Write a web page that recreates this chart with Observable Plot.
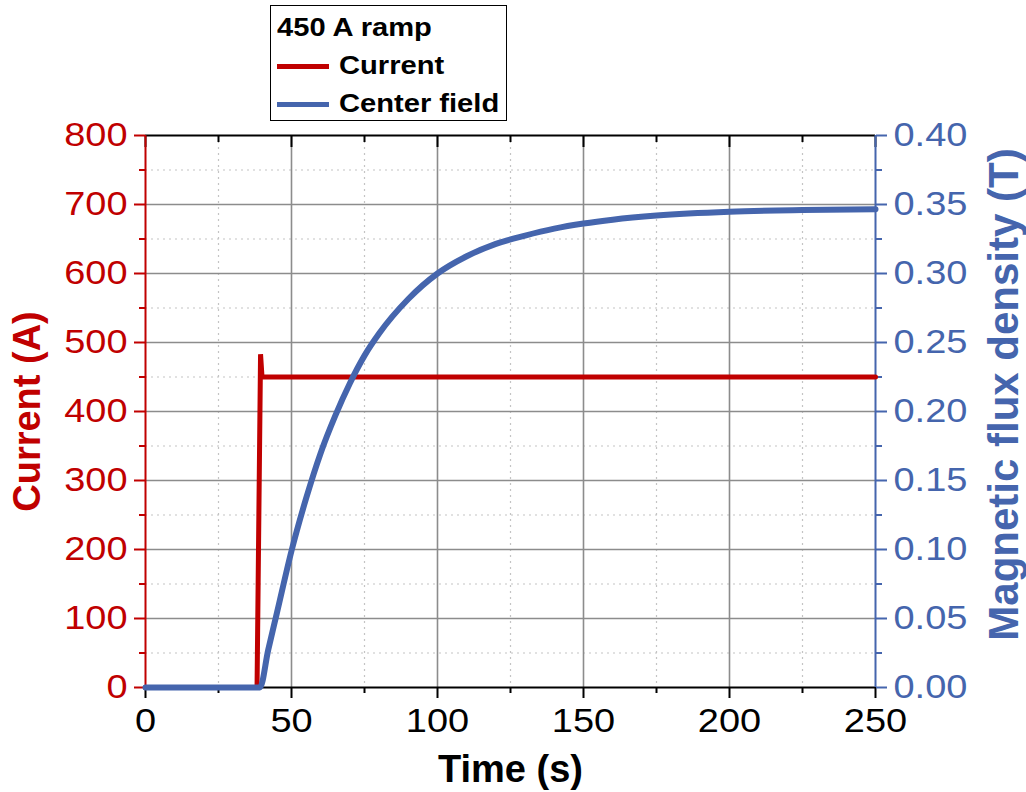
<!DOCTYPE html>
<html><head><meta charset="utf-8">
<script src="https://cdn.jsdelivr.net/npm/d3@7"></script>
<script src="https://cdn.jsdelivr.net/npm/@observablehq/plot@0.6"></script>
<style>
body{margin:0;background:#fff;}
#wrap{position:relative;width:1026px;height:792px;font-family:"Liberation Sans",Arial,sans-serif;}
#legend{position:absolute;left:270px;top:5px;width:237px;height:116px;border:1.5px solid #000;background:#fff;box-sizing:border-box;}
#legend .lt{position:absolute;left:6px;top:8px;font-weight:bold;font-size:26px;line-height:26px;white-space:nowrap;display:inline-block;transform:scaleX(1.12);transform-origin:left center;}
#legend .row{position:absolute;left:6px;font-weight:bold;font-size:26px;line-height:26px;white-space:nowrap;}
#legend .sw{position:absolute;left:0;top:12px;width:52px;height:5px;}
#legend .lab{position:absolute;left:62px;top:0;display:inline-block;transform:scaleX(1.12);transform-origin:left center;}
</style></head>
<body><div id="wrap"><div id="chart"></div><div id="legend"></div></div>
<script>
// ---- data ----
const timeCurrent = [0, 38.2, 39.4, 39.9, 100, 150, 200, 250];
const currentA    = [0, 0, 483, 450, 450, 450, 450, 450];
const timeField = [0, 39.2, 42, 45, 50, 55, 60, 65, 70, 75, 80, 90, 100, 110, 120, 130, 140, 150, 160, 175, 200, 225, 250];
const fieldT    = [0, 0, 0.027, 0.054, 0.099, 0.137, 0.170, 0.197, 0.2205, 0.2405, 0.2565, 0.2815, 0.300, 0.3125, 0.3215, 0.3275, 0.3325, 0.3362, 0.3390, 0.3420, 0.3448, 0.3460, 0.3466];
const xTicks = [0, 50, 100, 150, 200, 250];
const xMinorTicks = [25, 75, 125, 175, 225];
const currentTicks = [0, 100, 200, 300, 400, 500, 600, 700, 800];
const currentMinorTicks = [50, 150, 250, 350, 450, 550, 650, 750];
const fieldTicks = [0, 0.05, 0.10, 0.15, 0.20, 0.25, 0.30, 0.35, 0.40];
const fieldMinorTicks = [0.025, 0.075, 0.125, 0.175, 0.225, 0.275, 0.325, 0.375];
const seriesNames = ["Current", "Center field"];
const legendTitle = "450 A ramp";
const xLabel = "Time (s)";
const yLeftLabel = "Current (A)";
const yRightLabel = "Magnetic flux density (T)";

const RED = "#c00000", BLUE = "#4565ad";
const ratio = 800 / 0.4; // tesla -> amp units on the shared y scale

const currentData = timeCurrent.map((t, i) => ({t, v: currentA[i]}));
const fieldData = timeField.map((t, i) => ({t, v: fieldT[i] * ratio}));

const TICKFS = 33, TITLEFS = 38;
const minorGrid = {stroke: "#c4c4c4", strokeOpacity: 1, strokeWidth: 1.2, strokeDasharray: "2,4"};
const majorGrid = {stroke: "#8c8c8c", strokeOpacity: 1, strokeWidth: 1.6};

const plot = Plot.plot({
  width: 1026, height: 792,
  marginLeft: 145, marginRight: 151, marginTop: 135, marginBottom: 105,
  x: {domain: [0, 250]},
  y: {domain: [0, 800]},
  style: {fontFamily: "'Liberation Sans', Arial, sans-serif", background: "white", overflow: "visible"},
  marks: [
    Plot.gridX(xMinorTicks, minorGrid),
    Plot.gridY(currentMinorTicks, minorGrid),
    Plot.gridX(xTicks.slice(1, -1), majorGrid),
    Plot.gridY(currentTicks.slice(1, -1), majorGrid),
    // axes (outer)
    Plot.axisX({anchor: "bottom", ticks: xTicks, tickSize: 11, tickPadding: 10, fontSize: TICKFS, color: "#000", strokeWidth: 2, label: null}),
    Plot.axisX({anchor: "bottom", ticks: xMinorTicks, tickSize: 6, tickFormat: () => "", color: "#000", strokeWidth: 2, label: null}),
    Plot.axisX({anchor: "top", ticks: xTicks, tickSize: 11, insetTop: 11, tickFormat: () => "", color: "#000", strokeWidth: 2, label: null}),
    Plot.axisX({anchor: "top", ticks: xMinorTicks, tickSize: 6, insetTop: 6, tickFormat: () => "", color: "#000", strokeWidth: 2, label: null}),
    Plot.axisY({anchor: "left", ticks: currentTicks, tickSize: 11, tickPadding: 7, fontSize: TICKFS, color: RED, strokeWidth: 2, label: null}),
    Plot.axisY({anchor: "left", ticks: currentMinorTicks, tickSize: 6, tickFormat: () => "", color: RED, strokeWidth: 2, label: null}),
    Plot.axisY({anchor: "right", ticks: fieldTicks.map(v => v * ratio), tickFormat: d => (d / ratio).toFixed(2), tickSize: 11, tickPadding: 7, fontSize: TICKFS, color: BLUE, strokeWidth: 2, label: null}),
    Plot.axisY({anchor: "right", ticks: fieldMinorTicks.map(v => v * ratio), tickSize: 6, tickFormat: () => "", color: BLUE, strokeWidth: 2, label: null}),
    // frame
    Plot.ruleY([800], {stroke: "#000", strokeWidth: 2}),
    Plot.ruleY([0], {stroke: "#000", strokeWidth: 2}),
    Plot.ruleX([0], {stroke: RED, strokeWidth: 2}),
    Plot.ruleX([250], {stroke: BLUE, strokeWidth: 2}),
    // data
    Plot.line(currentData, {x: "t", y: "v", stroke: RED, strokeWidth: 5, strokeLinejoin: "miter", curve: "linear"}),
    Plot.line(fieldData, {x: "t", y: "v", stroke: BLUE, strokeWidth: 6, curve: "monotone-x"}),
    // axis titles
    Plot.text([xLabel], {frameAnchor: "bottom", dy: 94, textAnchor: "middle", fontSize: TITLEFS, fontWeight: "bold", fill: "#000"}),
    Plot.text([yLeftLabel], {frameAnchor: "left", dx: -118, rotate: -90, textAnchor: "middle", fontSize: TITLEFS, fontWeight: "bold", fill: RED}),
    Plot.text([yRightLabel], {frameAnchor: "right", dx: 129, dy: -17, rotate: -90, textAnchor: "middle", fontSize: 42, fontWeight: "bold", fill: BLUE})
  ]
});
document.getElementById("chart").appendChild(plot);

// widen tick label glyphs to match the reference's proportions
plot.querySelectorAll('g[aria-label$="tick label"] text').forEach(t => {
  const w = t.getComputedTextLength();
  if (w > 0) { t.setAttribute("textLength", (w * 1.15).toFixed(1)); t.setAttribute("lengthAdjust", "spacingAndGlyphs"); }
});

// legend
const lg = document.getElementById("legend");
const title = document.createElement("div");
title.className = "lt"; title.textContent = legendTitle; lg.appendChild(title);
[RED, BLUE].forEach((c, i) => {
  const row = document.createElement("div");
  row.className = "row"; row.style.top = (46 + i * 38) + "px";
  const sw = document.createElement("span"); sw.className = "sw"; sw.style.background = c;
  const lab = document.createElement("span"); lab.className = "lab"; lab.textContent = seriesNames[i];
  row.appendChild(sw); row.appendChild(lab); lg.appendChild(row);
});
</script>
</body></html>
